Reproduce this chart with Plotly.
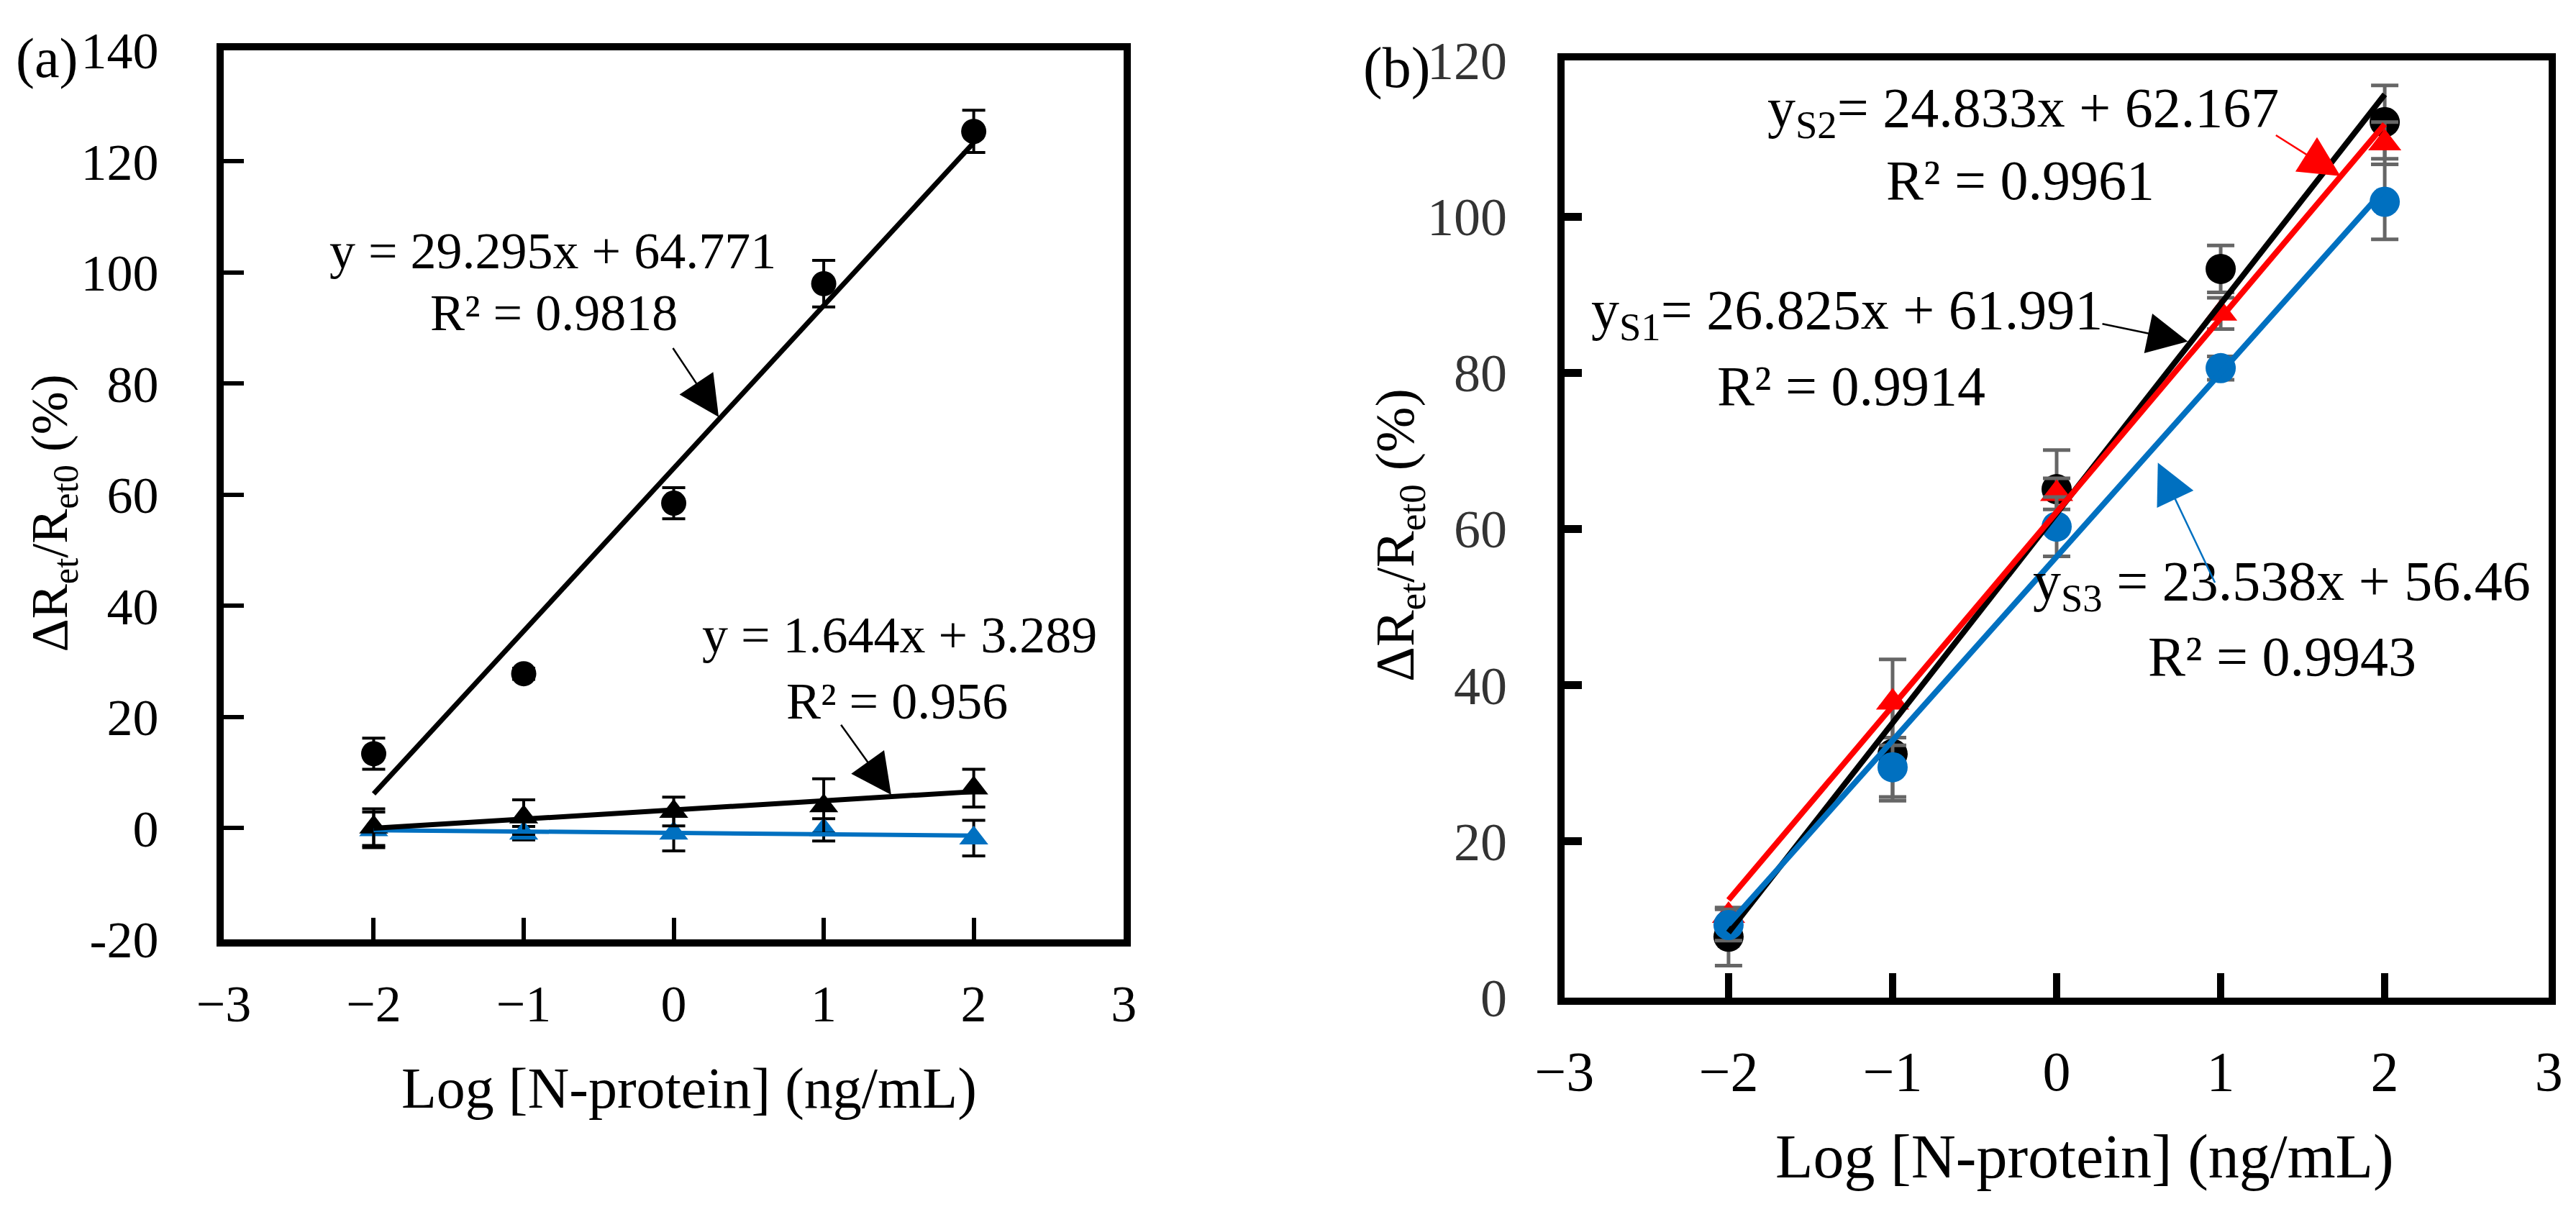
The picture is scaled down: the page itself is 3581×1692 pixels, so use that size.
import numpy as np
import plotly.graph_objects as go

FONT = "Liberation Serif"
BLUE = "#0070C0"
RED = "#FF0000"
GREY = "#666666"

x_levels = [-2, -1, 0, 1, 2]
x_ticks = [-3, -2, -1, 0, 1, 2, 3]
x_ticktext = ["\u22123", "\u22122", "\u22121", "0", "1", "2", "3"]

# panel (a)
a_probe = [13.4, 27.8, 58.5, 98.0, 125.4]
a_probe_err = [2.8, 1.0, 2.8, 4.2, 3.8]
a_ctrl = [0.2, 2.0, 3.0, 4.0, 7.2]
a_ctrl_err = [3.3, 3.1, 2.6, 4.9, 3.4]
a_blank = [-0.3, -0.9, -0.9, -0.3, -1.8]
a_blank_err = [3.2, 1.2, 3.2, 2.0, 3.2]
a_slope = [29.295, 1.644]
a_intercept = [64.771, 3.289]
a_yticks = [-20, 0, 20, 40, 60, 80, 100, 120, 140]
a_yticktext = ["-20", "0", "20", "40", "60", "80", "100", "120", "140"]

# panel (b)
b_s1 = [7.8, 31.2, 65.1, 93.3, 112.1]
b_s1_err = [3.7, 6.0, 5.0, 3.0, 4.7]
b_s2 = [10.5, 37.8, 64.5, 87.6, 109.4]
b_s2_err = [1.0, 5.5, 2.0, 2.0, 2.7]
b_s3 = [9.3, 29.5, 60.3, 80.6, 101.9]
b_s3_err = [2.0, 3.8, 3.8, 1.5, 4.8]
b_slope = [26.825, 24.833, 23.538]
b_intercept = [61.991, 62.167, 56.46]
b_yticks = [0, 20, 40, 60, 80, 100, 120]

xs = np.array(x_levels, dtype=float)
fit_x = np.array([xs.min(), xs.max()])

fig = go.Figure()


def points(x, y, err, color, symbol, size, errcolor, xa, ya, errw, thick):
    fig.add_trace(go.Scatter(
        x=x, y=y, mode="markers", xaxis=xa, yaxis=ya,
        marker=dict(color=color, symbol=symbol, size=size, line=dict(width=0)),
        error_y=dict(type="data", array=err, visible=True, color=errcolor,
                     thickness=thick, width=errw)))


def line(x, y, color, width, xa, ya):
    fig.add_trace(go.Scatter(x=x, y=y, mode="lines", xaxis=xa, yaxis=ya,
                             line=dict(color=color, width=width)))


# (a)
points(x_levels, a_probe, a_probe_err, "black", "circle", 35, "black", "x", "y", 16, 4)
points(x_levels, a_blank, a_blank_err, BLUE, "triangle-up", 35, "black", "x", "y", 16, 4)
points(x_levels, a_ctrl, a_ctrl_err, "black", "triangle-up", 35, "black", "x", "y", 16, 4)
blank_fit = np.polyfit(xs, a_blank, 1)
line(fit_x, np.polyval(blank_fit, fit_x), BLUE, 6, "x", "y")
for m, c in zip(a_slope, a_intercept):
    line(fit_x, m * fit_x + c, "black", 7, "x", "y")

# (b)
points(x_levels, b_s1, b_s1_err, "black", "circle", 42, GREY, "x2", "y2", 19, 5)
points(x_levels, b_s2, b_s2_err, RED, "triangle-up", 40, GREY, "x2", "y2", 19, 5)
points(x_levels, b_s3, b_s3_err, BLUE, "circle", 42, GREY, "x2", "y2", 19, 5)
for m, c, col in zip(b_slope, b_intercept, ["black", RED, BLUE]):
    line(fit_x, m * fit_x + c, col, 8, "x2", "y2")

axis_common = dict(showgrid=False, zeroline=False, showline=True, mirror=True,
                   linecolor="black", linewidth=10, ticks="inside",
                   tickcolor="black", automargin=False)

fig.update_layout(
    width=3581, height=1692,
    margin=dict(l=0, r=0, t=0, b=0, pad=0),
    paper_bgcolor="white", plot_bgcolor="white",
    showlegend=False,
    font=dict(family=FONT, color="black"),
    xaxis=dict(domain=[0.0846, 0.4340], range=[-3, 3], tickvals=x_ticks,
               ticktext=x_ticktext, ticklen=30, tickwidth=6,
               tickfont=dict(size=72), ticklabelstandoff=18, anchor="y",
               **axis_common),
    yaxis=dict(domain=[0.2329, 0.9634], range=[-20, 140], tickvals=a_yticks,
               ticktext=a_yticktext, ticklen=28, tickwidth=6,
               tickfont=dict(size=72), ticklabelstandoff=66, anchor="x",
               **axis_common),
    xaxis2=dict(domain=[0.6051, 0.9872], range=[-3, 3], tickvals=x_ticks,
                ticktext=x_ticktext, ticklen=34, tickwidth=10,
                tickfont=dict(size=78), ticklabelstandoff=25, anchor="y2",
                **axis_common),
    yaxis2=dict(domain=[0.1850, 0.9551], range=[0, 120], tickvals=b_yticks,
                ticklen=24, tickwidth=11,
                tickfont=dict(size=74, color="#333333"), ticklabelstandoff=55,
                anchor="x2", **axis_common),
)


def label(text, x, y, xa, ya, size, color="black", angle=0):
    fig.add_annotation(text=text, x=x, y=y, xref=xa, yref=ya, showarrow=False,
                       xanchor="center", yanchor="middle", textangle=angle,
                       font=dict(family=FONT, size=size, color=color))


def arrow(hx, hy, tx, ty, xa, ya, color):
    fig.add_annotation(text="", x=hx, y=hy, ax=tx, ay=ty, xref=xa, yref=ya,
                       axref=xa, ayref=ya, showarrow=True, arrowhead=2,
                       arrowsize=4.5, arrowwidth=2.5, arrowcolor=color)


# panel labels and axis titles
label("(a)", 0.0160, 0.957, "paper", "paper", 78)
label("(b)", 0.5400, 0.949, "paper", "paper", 80)
label("Log [N-protein] (ng/mL)", 0.2653, 0.1105, "paper", "paper", 80)
label("Log [N-protein] (ng/mL)", 0.807, 0.0544, "paper", "paper", 86)
ytitle = "\u0394R<sub>et</sub>/R<sub>et0</sub> (%)"
label(ytitle, 0.0184, 0.583, "paper", "paper", 72, angle=-90)
label(ytitle, 0.5409, 0.565, "paper", "paper", 76, angle=-90)

# equations (a)
label("y = 29.295x + 64.771", -0.808, 103.9, "x", "y", 72)
label("R\u00b2 = 0.9818", -0.80, 92.8, "x", "y", 72)
arrow(0.30, 74.0, -0.01, 86.6, "x", "y", "black")
label("y = 1.644x + 3.289", 1.504, 34.8, "x", "y", 72)
label("R\u00b2 = 0.956", 1.49, 22.9, "x", "y", 72)
arrow(1.45, 6.0, 1.11, 18.8, "x", "y", "black")

# equations (b)
label("y<sub>S2</sub>= 24.833x + 62.167", -0.203, 113.5, "x2", "y2", 78)
label("R\u00b2 = 0.9961", -0.22, 104.7, "x2", "y2", 78)
arrow(1.73, 105.2, 1.33, 110.5, "x2", "y2", RED)
label("y<sub>S1</sub>= 26.825x + 61.991", -1.28, 87.6, "x2", "y2", 78)
label("R\u00b2 = 0.9914", -1.254, 78.3, "x2", "y2", 78)
arrow(0.80, 84.0, 0.272, 86.3, "x2", "y2", "black")
label("y<sub>S3</sub> = 23.538x + 56.46", 1.373, 52.9, "x2", "y2", 78)
label("R\u00b2 = 0.9943", 1.373, 43.7, "x2", "y2", 78)
arrow(0.617, 68.5, 0.968, 53.0, "x2", "y2", BLUE)

fig.write_html("out.html")
